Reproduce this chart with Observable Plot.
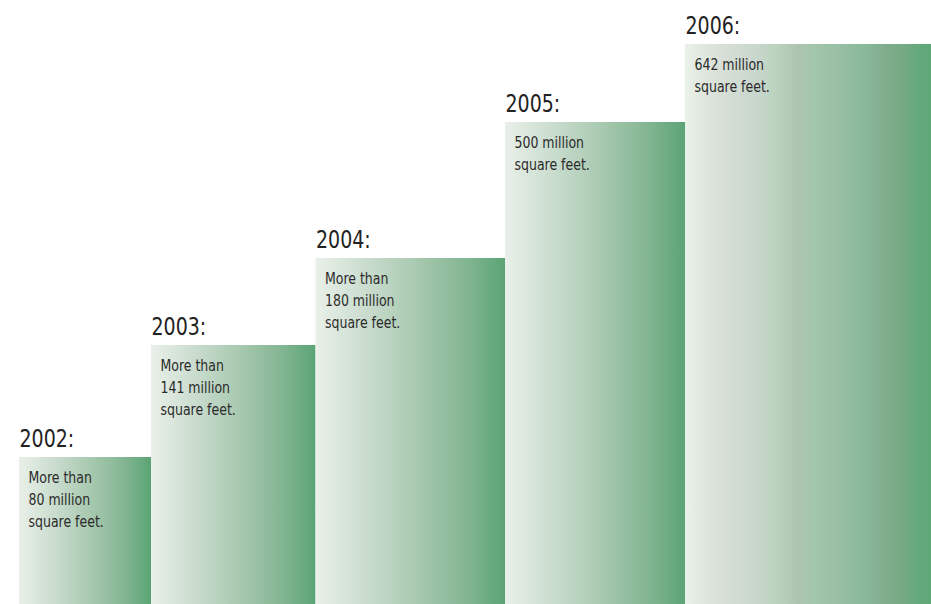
<!DOCTYPE html>
<html>
<head>
<meta charset="utf-8">
<script src="https://cdn.jsdelivr.net/npm/d3@7"></script>
<script src="https://cdn.jsdelivr.net/npm/@observablehq/plot@0.6"></script>
<style>
  html, body { margin: 0; padding: 0; background: #ffffff; }
  #chart svg { display: block; }
</style>
</head>
<body>
<div id="chart"></div>
<script>
// ---- Data ----
const years = ["2002:", "2003:", "2004:", "2005:", "2006:"];
const values = [80, 141, 180, 500, 642]; // million square feet
const notes = [
  "More than\n80 million\nsquare feet.",
  "More than\n141 million\nsquare feet.",
  "More than\n180 million\nsquare feet.",
  "500 million\nsquare feet.",
  "642 million\nsquare feet."
];

const rows = years.map((year, i) => ({i, year, value: values[i], note: notes[i]}));

const FONT = "'Liberation Sans Narrow', 'DejaVu Sans Condensed', 'Roboto', sans-serif";

function defs() {
  const d = d3.create("svg:defs");
  const g1 = d.append("linearGradient").attr("id", "stepGrad")
    .attr("x1", "0").attr("x2", "1").attr("y1", "0").attr("y2", "0");
  [[0, "#e9efe9"], [0.03, "#e6eee6"], [0.3, "#c6dacb"], [0.55, "#a6c8ae"], [0.8, "#82b592"], [1, "#5aa474"]]
    .forEach(([o, c]) => g1.append("stop").attr("offset", o).attr("stop-color", c));
  const g2 = d.append("linearGradient").attr("id", "lastGrad")
    .attr("x1", "0").attr("x2", "1").attr("y1", "0").attr("y2", "0");
  [[0, "#eaf2ea"], [0.05, "#e2eae2"], [0.14, "#d8e0d8"], [0.3, "#c8d6cc"], [0.36, "#bcd4c0"],
   [0.46, "#adc4b0"], [0.53, "#a2c6aa"], [0.64, "#96bea2"], [0.72, "#8aba9a"], [0.82, "#80ac8c"],
   [0.9, "#72a982"], [0.95, "#63a97b"], [1, "#5ea878"]]
    .forEach(([o, c]) => g2.append("stop").attr("offset", o).attr("stop-color", c));
  return d.node();
}

// Narrow the text horizontally to mimic the condensed typeface of the original.
function condensed(k) {
  return (index, scales, values, dims, context, next) => {
    const g = next(index, scales, values, dims, context);
    d3.select(g).selectAll("text").each(function () {
      const t = this.getAttribute("transform");
      if (t) {
        this.setAttribute("transform", `${t} scale(${k},1)`);
      } else {
        const x = +this.getAttribute("x") || 0, y = +this.getAttribute("y") || 0;
        this.removeAttribute("x"); this.removeAttribute("y");
        this.setAttribute("transform", `translate(${x},${y}) scale(${k},1)`);
      }
    });
    return g;
  };
}

const chart = Plot.plot({
  width: 931,
  height: 604,
  marginTop: 0, marginRight: 0, marginBottom: 0, marginLeft: 0,
  style: {fontFamily: FONT, background: "#ffffff"},
  x: {type: "linear", domain: [0, 1, 2, 3, 4, 5], range: [19, 151, 315.5, 505, 685, 931], axis: null},
  y: {type: "linear", domain: [0, 80, 141, 180, 500, 642], range: [604, 457, 345, 258, 122, 44], axis: null},
  marks: [
    defs,
    Plot.rectY(rows.filter(d => d.i < 4), {
      x1: "i", x2: d => d.i + 1, y1: 0, y2: "value", fill: "url(#stepGrad)", inset: 0
    }),
    Plot.rectY(rows.filter(d => d.i === 4), {
      x1: "i", x2: d => d.i + 1, y1: 0, y2: "value", fill: "url(#lastGrad)", inset: 0
    }),
    Plot.text(rows, {
      x: "i", y: "value", text: "year", textAnchor: "start", lineAnchor: "bottom",
      dy: -11, dx: 0, fontSize: 24, fill: "#222222", fontFamily: FONT,
      render: condensed(0.88)
    }),
    Plot.text(rows, {
      x: "i", y: "value", text: "note", textAnchor: "start", lineAnchor: "top",
      dy: 10.5, dx: 9, fontSize: 16, lineHeight: 1.36, fill: "#2b2b2b", fontFamily: FONT,
      render: condensed(0.87)
    })
  ]
});

document.getElementById("chart").appendChild(chart);
</script>
</body>
</html>
